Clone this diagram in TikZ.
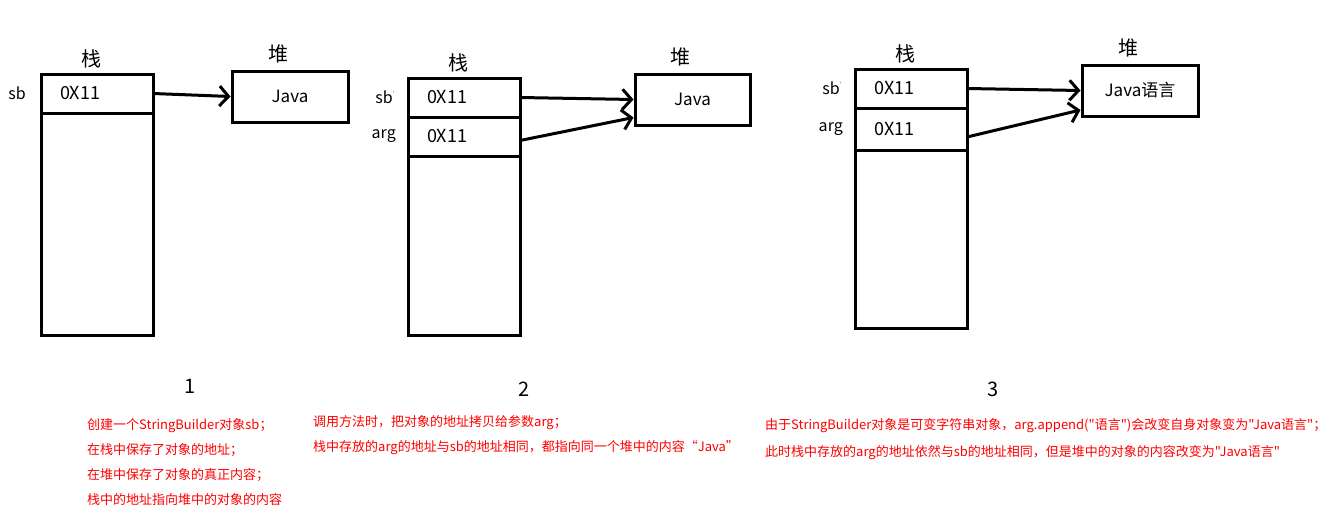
\documentclass[tikz,border=0pt]{standalone}
\usepackage{fontspec}
\newfontfamily\cjk{Noto Sans CJK SC}
\usetikzlibrary{positioning,arrows.meta}

\newcommand{\sbtick}{sb\raisebox{0.45em}{\fontsize{7}{7}\selectfont\color{gray}'}}

\begin{document}
\begin{tikzpicture}[x=1pt, y=-1pt, font=\cjk,
		stk/.style={draw, line width=3pt, minimum width=112pt, outer sep=0pt},
		cell/.style={draw, line width=3pt, minimum width=112pt, minimum height=39pt, text width=74pt, inner xsep=19pt, align=left, outer sep=0pt, anchor=north, font=\cjk\fontsize{18}{21}\selectfont},
		heap/.style={draw, line width=3pt, minimum width=116pt, minimum height=51pt, font=\cjk\fontsize{17}{20}\selectfont},
		head/.style={inner sep=0pt, font=\cjk\fontsize{20}{24}\selectfont},
		var/.style={inner sep=0pt, font=\cjk\fontsize{16}{19}\selectfont},
		num/.style={inner sep=0pt, font=\cjk\fontsize{20}{24}\selectfont},
		note/.style={text=red, align=left, anchor=north west, inner sep=0pt, font=\cjk\fontsize{13}{25}\selectfont},
		ref/.style={-{Straight Barb[length=9pt, width=20pt]}, line width=3pt}]
	\useasboundingbox (0,0) rectangle (1333,522);

	% panel 1
	\node[stk, minimum height=261pt] (stk1) at (97,204.5) {};
	\node[cell] (sb1) at (stk1.north) {0X11};
	\node[heap] (heap1) at (290,96.5) {Java};
	\node[head, above=6pt of stk1, xshift=-6pt] (zhan1) {栈};
	\node[head, above=6pt of heap1, xshift=-12pt] (dui1) {堆};
	\node[var, left=15pt of sb1] (sbv1) {sb};
	\draw[ref] (sb1.east) -- (heap1.west);
	\node[num] (n1) at (190,386) {1};
	\node[note] (txt1) at (87,418) {创建一个StringBuilder对象sb；\\在栈中保存了对象的地址；\\在堆中保存了对象的真正内容；\\栈中的地址指向堆中的对象的内容};

	% panel 2
	\node[stk, minimum height=257pt] (stk2) at (464,206.5) {};
	\node[cell] (sb2) at (stk2.north) {0X11};
	\node[cell, below=0pt of sb2] (arg2) {0X11};
	\node[heap, minimum width=115pt] (heap2) at (692.5,99.5) {Java};
	\node[head, above=6pt of stk2, xshift=-6pt] (zhan2) {栈};
	\node[head, above=6pt of heap2, xshift=-12pt] (dui2) {堆};
	\node[var, left=13pt of sb2] (sbv2) {\sbtick};
	\node[var, left=12pt of arg2] (argv2) {arg};
	\draw[ref] (sb2.east) -- (heap2.west);
	\draw[ref] ([yshift=-4pt]arg2.east) -- ([yshift=-18pt]heap2.west);
	\node[num] (n2) at (524,389) {2};
	\node[note] (txt2) at (313,415.5) {调用方法时，把对象的地址拷贝给参数arg；\\栈中存放的arg的地址与sb的地址相同，都指向同一个堆中的内容“Java”};

	% panel 3
	\node[stk, minimum height=259pt] (stk3) at (911,198.5) {};
	\node[cell] (sb3) at (stk3.north) {0X11};
	\node[cell, below=0pt of sb3, minimum height=42pt] (arg3) {0X11};
	\node[heap] (heap3) at (1140,90.5) {Java语言};
	\node[head, above=6pt of stk3, xshift=-6pt] (zhan3) {栈};
	\node[head, above=6pt of heap3, xshift=-12pt] (dui3) {堆};
	\node[var, left=13pt of sb3] (sbv3) {\sbtick};
	\node[var, left=12pt of arg3] (argv3) {arg};
	\draw[ref] (sb3.east) -- (heap3.west);
	\draw[ref] ([yshift=-8pt]arg3.east) -- ([yshift=-19.5pt]heap3.west);
	\node[num] (n3) at (993,389) {3};
	\node[note, font=\cjk\fontsize{13}{27}\selectfont] (txt3) at (765,418) {由于StringBuilder对象是可变字符串对象，arg.append("语言")会改变自身对象变为"Java语言"；\\此时栈中存放的arg的地址依然与sb的地址相同，但是堆中的对象的内容改变为"Java语言"};
\end{tikzpicture}
\end{document}
